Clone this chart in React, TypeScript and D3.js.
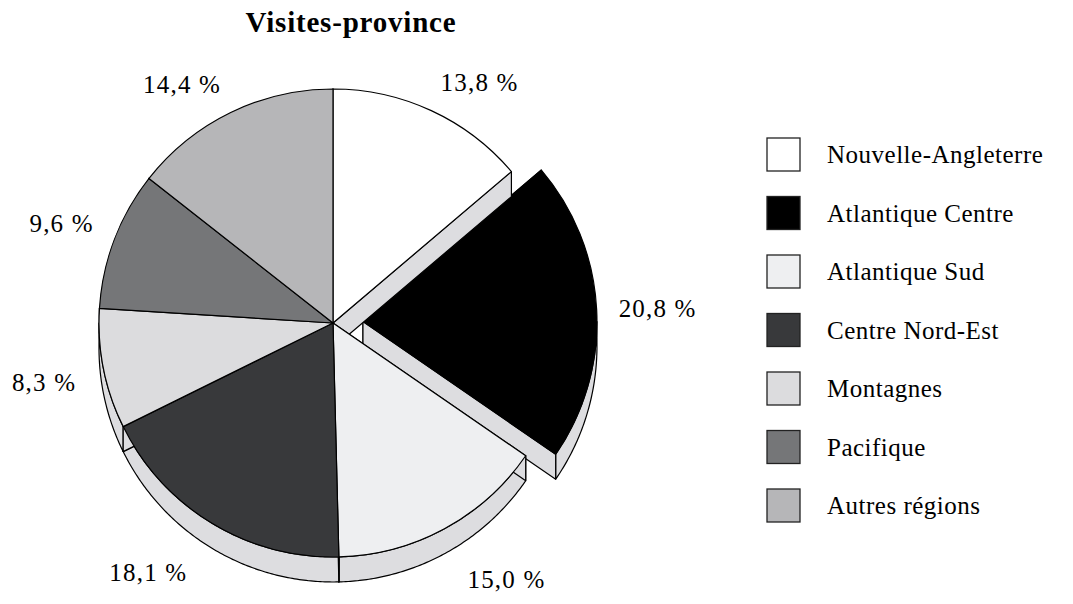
import React from 'react';
import * as d3 from 'd3';

const title = 'Visites-province';
const categories = [
  'Nouvelle-Angleterre',
  'Atlantique Centre',
  'Atlantique Sud',
  'Centre Nord-Est',
  'Montagnes',
  'Pacifique',
  'Autres régions',
];
const values = [13.8, 20.8, 15.0, 18.1, 8.3, 9.6, 14.4];
const colors = ['#ffffff', '#000000', '#eeeff1', '#38393b', '#dcdcde', '#757678', '#b6b6b8'];
const exploded = [false, true, false, false, false, false, false];

const W = 1073;
const H = 604;
const CX = 333;
const CY = 323;
const R = 234;
const DEPTH = 25;
const EXPLODE = 30;
const WALL = '#dddde0';
const STROKE = '#000';
const SW = 1.2;
const LABEL_D = 256;
const CAP = 17;

const pt = (ox: number, oy: number, rad: number, a: number): [number, number] => [
  ox + rad * Math.sin(a),
  oy - rad * Math.cos(a),
];

function wallPath(ox: number, oy: number, a0: number, a1: number): string | null {
  const s = Math.max(a0, Math.PI / 2);
  const e = Math.min(a1, (3 * Math.PI) / 2);
  if (e <= s) return null;
  const n = Math.max(2, Math.ceil((e - s) / 0.01));
  const top: [number, number][] = [];
  const bot: [number, number][] = [];
  for (let i = 0; i <= n; i++) {
    const a = s + ((e - s) * i) / n;
    const p = pt(ox, oy, R, a);
    top.push(p);
    bot.push([p[0], p[1] + DEPTH]);
  }
  return (d3.line()([...top, ...bot.reverse()]) as string) + 'Z';
}

function facePath(ox: number, oy: number, a: number): string {
  const p = pt(ox, oy, R, a);
  return `M${ox},${oy}L${p[0]},${p[1]}L${p[0]},${p[1] + DEPTH}L${ox},${oy + DEPTH}Z`;
}

const fmt = (v: number) => d3.format('.1f')(v).replace('.', ',') + ' %';

export default function App() {
  const pie = d3
    .pie<number>()
    .sort(null)
    .value((d) => d)
    .startAngle(0)
    .endAngle(2 * Math.PI);
  const arcs = pie(values);
  const arcGen = d3.arc<d3.PieArcDatum<number>>().innerRadius(0).outerRadius(R);

  const slices = arcs.map((a, i) => {
    const mid = (a.startAngle + a.endAngle) / 2;
    const off = exploded[i] ? EXPLODE : 0;
    const ox = CX + off * Math.sin(mid);
    const oy = CY - off * Math.cos(mid);
    return { a, i, mid, ox, oy };
  });

  const exp = slices.filter((s) => exploded[s.i]);
  const main = slices.filter((s) => !exploded[s.i]);

  const renderExtrusion = (s: (typeof slices)[number], key: string) => {
    const w = wallPath(s.ox, s.oy, s.a.startAngle, s.a.endAngle);
    return (
      <g key={key}>
        {w && <path d={w} fill={WALL} stroke={STROKE} strokeWidth={SW} strokeLinejoin="round" />}
        <path d={facePath(s.ox, s.oy, s.a.startAngle)} fill={WALL} stroke={STROKE} strokeWidth={SW} strokeLinejoin="round" />
        <path d={facePath(s.ox, s.oy, s.a.endAngle)} fill={WALL} stroke={STROKE} strokeWidth={SW} strokeLinejoin="round" />
      </g>
    );
  };
  const renderTop = (s: (typeof slices)[number], key: string) => (
    <path
      key={key}
      d={arcGen(s.a) as string}
      transform={`translate(${s.ox},${s.oy})`}
      fill={colors[s.i]}
      stroke={STROKE}
      strokeWidth={SW}
      strokeLinejoin="round"
    />
  );

  const legendX = 767;
  const legendY0 = 138;
  const legendStep = 58.5;
  const box = 33;

  return (
    <svg
      width={W}
      height={H}
      viewBox={`0 0 ${W} ${H}`}
      style={{ position: 'absolute', left: 0, top: 0, background: '#fff' }}
    >
      <rect x={0} y={0} width={W} height={H} fill="#fff" />
      <text
        x={351}
        y={32}
        textAnchor="middle"
        fontFamily="'Liberation Serif', serif"
        fontWeight="bold"
        fontSize={29}
        letterSpacing={0.8}
        fill="#000"
      >
        {title}
      </text>

      {exp.map((s) => (
        <g key={'e' + s.i}>
          {renderExtrusion(s, 'ex' + s.i)}
          {renderTop(s, 'et' + s.i)}
        </g>
      ))}
      {main.map((s) => renderExtrusion(s, 'mx' + s.i))}
      {main.map((s) => renderTop(s, 'mt' + s.i))}

      {slices.map((s) => {
        const sn = Math.sin(s.mid);
        const cs = Math.cos(s.mid);
        const lower = cs < 0;
        const d = LABEL_D + (lower ? DEPTH * -cs * 1.2 : 0);
        const p = pt(s.ox, s.oy, d, s.mid);
        // nearest corner of the text box sits on the label ring
        const y = lower ? p[1] + CAP : p[1] + (Math.abs(cs) < 0.2 ? CAP / 2 : 0);
        return (
          <text
            key={'l' + s.i}
            x={p[0]}
            y={y}
            textAnchor={sn >= 0 ? 'start' : 'end'}
            fontFamily="'Liberation Serif', serif"
            fontSize={25}
            letterSpacing={1.2}
            fill="#000"
          >
            {fmt(values[s.i])}
          </text>
        );
      })}

      {categories.map((c, i) => {
        const y = legendY0 + i * legendStep;
        return (
          <g key={'lg' + i}>
            <rect x={legendX} y={y} width={box} height={box} fill={colors[i]} stroke="#222" strokeWidth={1.3} />
            <text
              x={827}
              y={y + box / 2}
              dominantBaseline="central"
              fontFamily="'Liberation Serif', serif"
              fontSize={25}
              letterSpacing={0.5}
              fill="#000"
            >
              {c}
            </text>
          </g>
        );
      })}
    </svg>
  );
}
